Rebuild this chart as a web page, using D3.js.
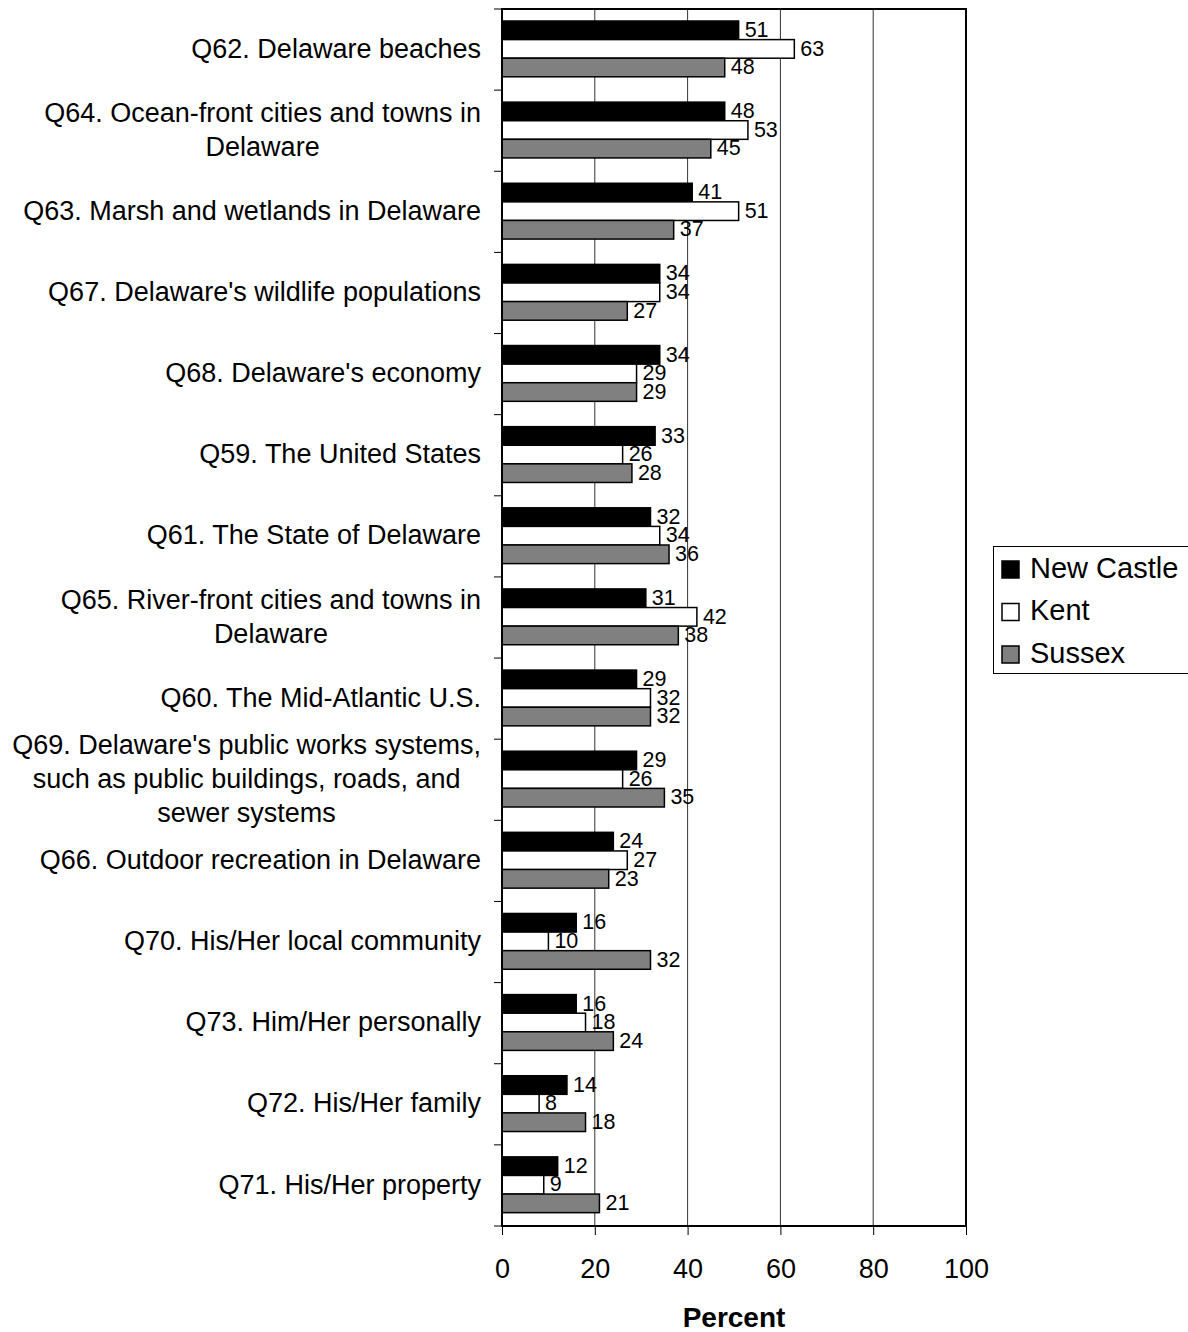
<!DOCTYPE html>
<html><head><meta charset="utf-8">
<script src="https://cdn.jsdelivr.net/npm/d3@7/dist/d3.min.js"></script>
<style>body{margin:0;background:#fff;} svg{display:block;font-family:"Liberation Sans",Arial,sans-serif;}</style>
</head><body><svg id="c" width="1188" height="1332"></svg>
<script>
const categories = [
 ["Q62. Delaware beaches"],
 ["Q64. Ocean-front cities and towns in","Delaware"],
 ["Q63. Marsh and wetlands in Delaware"],
 ["Q67. Delaware's wildlife populations"],
 ["Q68. Delaware's economy"],
 ["Q59. The United States"],
 ["Q61. The State of Delaware"],
 ["Q65. River-front cities and towns in","Delaware"],
 ["Q60. The Mid-Atlantic U.S."],
 ["Q69. Delaware's public works systems,","such as public buildings, roads, and","sewer systems"],
 ["Q66. Outdoor recreation in Delaware"],
 ["Q70. His/Her local community"],
 ["Q73. Him/Her personally"],
 ["Q72. His/Her family"],
 ["Q71. His/Her property"]
];
const seriesNames = ["New Castle","Kent","Sussex"];
const newCastle = [51,48,41,34,34,33,32,31,29,29,24,16,16,14,12];
const kent      = [63,53,51,34,29,26,34,42,32,26,27,10,18,8,9];
const sussex    = [48,45,37,27,29,28,36,38,32,35,23,32,24,18,21];
const xTicks = [0,20,40,60,80,100];
const colors = ["#000000","#ffffff","#808080"];

const series = [newCastle, kent, sussex];
const svg = d3.select("#c");
const L = 502, R = 966, T = 9, B = 1226;
const x = d3.scaleLinear().domain([0,100]).range([L,R]);
const idx = d3.range(categories.length);
const y = d3.scaleBand().domain(idx).range([T,B]).paddingInner(0).paddingOuter(0);
const bw = y.bandwidth();
const barH = 18.6;
const off0 = 12;
const inner = d3.scaleBand().domain([0,1,2]).range([off0, off0 + barH*3]);

// gridlines
svg.append("g").selectAll("line").data([20,40,60,80]).join("line")
  .attr("x1",d=>x(d)).attr("x2",d=>x(d)).attr("y1",T).attr("y2",B)
  .attr("stroke","#333").attr("stroke-width",1);

// bars
idx.forEach(i=>{
  series.forEach((s,k)=>{
    const v = s[i];
    const yy = y(i) + inner(k);
    svg.append("rect").attr("x",x(0)).attr("y",yy)
      .attr("width",x(v)-x(0)).attr("height",inner.bandwidth())
      .attr("fill",colors[k]).attr("stroke","#000").attr("stroke-width",1.5);
    svg.append("text").attr("x",x(v)+6).attr("y",yy+inner.bandwidth()/2+1)
      .attr("dominant-baseline","middle").attr("font-size",21.5).text(v);
  });
});

// plot border
svg.append("rect").attr("x",L).attr("y",T).attr("width",R-L).attr("height",B-T)
  .attr("fill","none").attr("stroke","#000").attr("stroke-width",2);

// left axis ticks
const yTicks = d3.range(categories.length+1).map(i=>T + i*bw);
svg.append("g").selectAll("line").data(yTicks).join("line")
  .attr("x1",L-8).attr("x2",L).attr("y1",d=>d).attr("y2",d=>d)
  .attr("stroke","#000").attr("stroke-width",1);

// bottom axis
const xAxis = d3.axisBottom(x).tickValues(xTicks).tickSize(9).tickPadding(24);
const gx = svg.append("g").attr("transform",`translate(0,${B})`).call(xAxis);
gx.select(".domain").remove();
gx.selectAll("line").attr("stroke","#000");
gx.selectAll("text").attr("font-size",27).attr("fill","#000")
  .attr("font-family","Liberation Sans, Arial, sans-serif");

svg.append("text").attr("x",(L+R)/2).attr("y",1327).attr("text-anchor","middle")
  .attr("font-size",28).attr("font-weight","bold").text("Percent");

// category labels (centered block, right edge at 481)
const LABEL_RIGHT = 481, FS = 27, LH = 33.8;
categories.forEach((lines,i)=>{
  const cy = y(i) + bw/2 + 1;
  const start = cy - (lines.length-1)*LH/2;
  const g = svg.append("g");
  const ts = lines.map((ln,j)=> g.append("text")
      .attr("y", start + j*LH)
      .attr("dominant-baseline","middle")
      .attr("font-size",FS)
      .attr("text-anchor","middle")
      .text(ln));
  const maxW = d3.max(ts, t=>t.node().getComputedTextLength());
  ts.forEach(t=>t.attr("x", LABEL_RIGHT - maxW/2));
});

// legend
const lg = svg.append("g");
lg.append("rect").attr("x",993.5).attr("y",546.5).attr("width",200).attr("height",127)
  .attr("fill","#fff").attr("stroke","#000").attr("stroke-width",1);
seriesNames.forEach((n,k)=>{
  const cy = 569 + k*42.5;
  lg.append("rect").attr("x",1002).attr("y",cy-8).attr("width",17).attr("height",17)
    .attr("fill",colors[k]).attr("stroke","#000").attr("stroke-width",1.5);
  lg.append("text").attr("x",1030).attr("y",cy+1).attr("dominant-baseline","middle")
    .attr("font-size",29).text(n);
});
</script></body></html>
